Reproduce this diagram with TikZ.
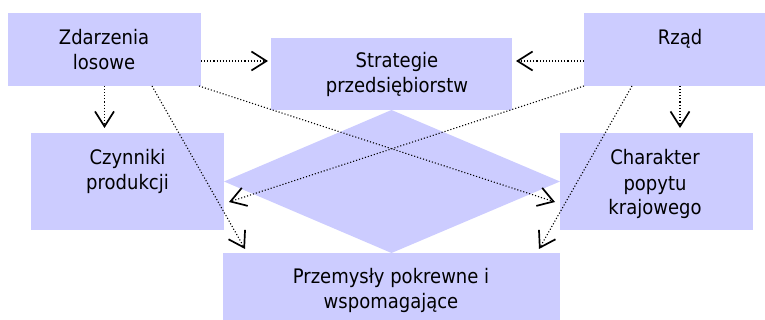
\documentclass[tikz,border=0pt]{standalone}
\usepackage{fontspec}
\setmainfont{DejaVu Sans}[FakeStretch=0.9]
\usetikzlibrary{arrows.meta,calc}
\definecolor{boxfill}{HTML}{CCCCFF}
\tikzset{
  box/.style={rectangle, fill=boxfill, draw=none, inner sep=0pt, outer sep=0pt},
  lbl/.style={anchor=base, align=center, inner sep=0pt, font=\fontsize{20}{25}\selectfont, text=black},
  conn/.style={line width=1.1pt, dotted, -{Straight Barb[length=15pt,width=19pt,line width=1.7pt]}},
}
\begin{document}
\begin{tikzpicture}[x=1pt,y=-1pt]
\useasboundingbox (0,0) rectangle (765,320);
% boxes
\node[box, minimum width=193pt, minimum height=73pt] (zd) at (104.5,49.5) {};
\node[box, minimum width=241pt, minimum height=72pt] (st) at (391.5,74) {};
\node[box, minimum width=181pt, minimum height=73pt] (rz) at (674.5,49.5) {};
\node[box, minimum width=193pt, minimum height=97pt] (cz) at (127.5,181.5) {};
\node[box, minimum width=193pt, minimum height=97pt] (ch) at (656.5,181.5) {};
\node[box, minimum width=337pt, minimum height=67pt] (pr) at (391.5,286.5) {};
% central diamond
\fill[boxfill] (st.south) -- (cz.east) -- (pr.north) -- (ch.west) -- cycle;
% texts (base anchor = baseline of the last line)
\node[lbl] (zdt) at (104,69.3) {Zdarzenia\\losowe};
\node[lbl] (stt) at (397,92.5) {Strategie\\przedsiębiorstw};
\node[lbl] (rzt) at (680,44.3) {Rząd};
\node[lbl] (czt) at (127.5,190) {Czynniki\\produkcji};
\node[lbl] (cht) at (655,215) {Charakter\\popytu\\krajowego};
\node[lbl] (prt) at (391,308) {Przemysły pokrewne i\\wspomagające};
% helper coordinates
\coordinate (rzs) at ([xshift=5.5pt]rz.south);
% connectors
\draw[conn] ([yshift=-11.5pt]zd.east) -- ([shift={(-3pt,13pt)}]st.west);
\draw[conn] ([yshift=-11.5pt]rz.west) -- ([shift={(4pt,13pt)}]st.east);
\draw[conn, shorten >=5pt] (zd.south) -- (zd.south |- cz.north);
\draw[conn, shorten >=5pt] (rzs) -- (rzs |- ch.north);
\draw[conn] ([xshift=-2pt]zd.south east) -- ([shift={(-5pt,-20.5pt)}]ch.west);
\draw[conn] ([xshift=47.5pt]zd.south) -- ([shift={(22pt,4pt)}]pr.north west);
\draw[conn] (rz.south west) -- ([shift={(5pt,-20.5pt)}]cz.east);
\draw[conn] ([xshift=48pt]rz.south west) -- ([shift={(-21pt,4pt)}]pr.north east);
\end{tikzpicture}
\end{document}
